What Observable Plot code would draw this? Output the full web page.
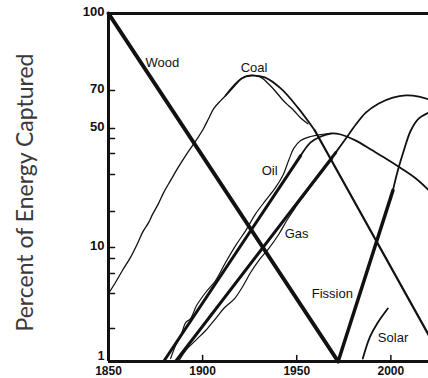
<!DOCTYPE html>
<html><head><meta charset="utf-8">
<script src="https://cdn.jsdelivr.net/npm/d3@7"></script>
<script src="https://cdn.jsdelivr.net/npm/@observablehq/plot@0.6"></script>
<style>html,body{margin:0;padding:0;background:#fff} #chart svg{display:block}</style>
</head><body><div id="chart"></div>
<script>
// ---- data (year, percent) ----
const xTicks = [1850, 1900, 1950, 2000];
const yTickLabels = [10, 50, 70, 100];
const yBottomLabel = [1];
const yMinorTicks = [2, 4, 6, 8, 20, 30, 40, 45];
const yScaleStops = [1, 2, 4, 6, 8, 10, 20, 30, 40, 45, 50, 70, 100];

const wood = [[1850, 100], [1972, 1]];
const fissionLine = [[1972, 1], [2001.1, 25.7]];
const fissionCurve = [[2001.1, 25.7], [2003.7, 31.9], [2006.9, 41], [2010.6, 49], [2014.9, 55.3], [2020.2, 58.4]];
const coalData = [[1850, 4.0], [1853.7, 5.1], [1857.4, 6.4], [1861.7, 8.2], [1865.4, 11.1], [1868.1, 14.2], [1871.3, 16.9], [1873.4, 19.2], [1876.6, 22.2], [1879.3, 25.1], [1883.0, 28.4], [1886.7, 32.9], [1891.0, 39.0], [1894.7, 42.7], [1897.9, 46.0], [1900.5, 50], [1903.2, 55.3], [1905.9, 60.5], [1909.6, 64.7], [1913.8, 68.9], [1917.6, 72.3], [1920.7, 74.7], [1923.9, 75.8], [1928.2, 75.8], [1931.9, 74.7], [1935.1, 72.5], [1938.8, 69.5], [1942.6, 65.0], [1945.7, 62.0], [1948.4, 59.5], [1952.1, 55.5], [1955.9, 52.5]];
const coalFit = [[1912.2, 67.4], [1920.7, 74.7], [1926.1, 75.8], [1933, 75.1], [1941.5, 70.8], [1950.5, 61.1], [1959.6, 49]];
const coalDecline = [[1959.6, 49], [2020.2, 1.79]];
const oilLine = [[1879.3, 1], [1952.1, 39]];
const oilFit = [[1952.1, 39], [1957.4, 43.7], [1962.8, 46.0], [1968.1, 47.5], [1973.4, 47.0], [1981.4, 44.3], [1989.4, 41.3], [1997.3, 37.6], [2004.8, 33.3], [2013.3, 28.9], [2020.2, 25.7]];
const oilData = [[1883.0, 1.09], [1885.6, 1.48], [1888.3, 1.76], [1891.0, 2.34], [1893.6, 2.57], [1896.8, 3.31], [1901.6, 4.1], [1906.9, 5.3], [1912.2, 7.47], [1917.6, 10.6], [1922.9, 14.7], [1928.2, 19.4], [1933.5, 23.0], [1938.8, 26.5], [1942.6, 29.7], [1945.7, 36.7], [1948.4, 41.7], [1952.1, 44.3], [1957.4, 46.0], [1962.8, 47.0], [1968.1, 47.5]];
const gasLine = [[1885.6, 1], [1970.7, 40.3]];
const gasFit = [[1970.7, 40.3], [1976.1, 45], [1981.4, 52.1], [1986.7, 58.4], [1993.6, 63.2], [2001.1, 66.3], [2008.0, 67.4], [2014.9, 66.8], [2020.2, 65.3]];
const gasData = [[1887.2, 1], [1891.0, 1.33], [1896.3, 1.64], [1901.6, 1.94], [1906.9, 2.57], [1911.7, 3.2], [1917.0, 3.71], [1921.3, 4.7], [1925.5, 6.13], [1929.8, 7.73], [1935.1, 9.8], [1940.4, 13.6], [1944.7, 17.5], [1948.9, 20.8], [1953.7, 24.1], [1958.5, 27.3], [1963.8, 31.4], [1969.1, 37.6]];
const solar = [[1985.1, 1.09], [1988.8, 1.73], [1993.1, 2.34], [1998.4, 3.14]];

const seriesLabels = [
  {name: "Wood", year: 1869.7, value: 80.9},
  {name: "Coal", year: 1920.2, value: 79.0},
  {name: "Oil", year: 1931.4, value: 31.9},
  {name: "Gas", year: 1943.6, value: 13.9},
  {name: "Fission", year: 1958.0, value: 4.0},
  {name: "Solar", year: 1993.1, value: 1.73}
];
const yTitle = "Percent of Energy Captured";

// ---- chart ----
const ink = "#111";
const X = d => d[0], Y = d => d[1];
const tickShape = {draw(context, l) { context.moveTo(0, 0); context.lineTo(0, -l); }};
const line = (data, w, curve = "linear") => Plot.line(data, {x: X, y: Y, stroke: ink, strokeWidth: w, curve, strokeLinejoin: "round", strokeLinecap: "round"});

const chart = Plot.plot({
  width: 428,
  height: 378,
  marginLeft: 108,
  marginRight: 0,
  marginTop: 13,
  marginBottom: 17,
  style: {fontFamily: "'Liberation Sans', Arial, sans-serif", fontSize: "13px", color: ink, background: "#fff"},
  x: {domain: [1850, 2020], axis: null},
  y: {type: "linear", domain: yScaleStops, range: [361, 328, 293, 273, 258, 247, 211, 174, 153, 138, 128, 90, 13], axis: null},
  marks: [
    // thin historical data
    line(coalData, 1.3, "catmull-rom"),
    line(oilData, 1.2, "catmull-rom"),
    line(gasData, 1.2, "catmull-rom"),
    // fitted curves
    line(coalFit, 1.8, "catmull-rom"),
    line(coalDecline, 2.2),
    line(oilFit, 1.8, "catmull-rom"),
    line(gasFit, 1.8, "catmull-rom"),
    line(fissionCurve, 1.8, "catmull-rom"),
    line(solar, 1.8, "catmull-rom"),
    line(oilLine, 3),
    line(gasLine, 3),
    line(fissionLine, 3.5),
    line(wood, 4),
    // frame
    Plot.ruleX([1850], {stroke: ink, strokeWidth: 3}),
    Plot.ruleY([1, 100], {stroke: ink, strokeWidth: 3}),
    // inward ticks
    Plot.vector(yMinorTicks.concat([10, 50, 70]), {x: () => 1850, y: d => d, rotate: 90, length: 6, anchor: "start", shape: tickShape, stroke: ink, strokeWidth: 1.5}),
    Plot.vector(xTicks.slice(1), {x: d => d, y: () => 1, rotate: 0, length: 6, anchor: "start", shape: tickShape, stroke: ink, strokeWidth: 1.5}),
    // axis labels
    Plot.axisY({ticks: yTickLabels, tickSize: 0, tickPadding: 4, dy: -2, tickFormat: d => String(d), fontSize: 13, fontWeight: "bold", label: null}),
    Plot.axisY({ticks: yBottomLabel, tickSize: 0, tickPadding: 4, dy: -5, tickFormat: d => String(d), fontSize: 12, fontWeight: "bold", label: null}),
    Plot.axisX({ticks: xTicks, tickSize: 0, tickPadding: 5, tickFormat: d => String(d), fontSize: 12, fontWeight: "bold", label: null}),
    // series labels
    Plot.text(seriesLabels, {x: "year", y: "value", text: "name", textAnchor: "start", fontSize: 13, fill: ink}),
    // y title
    Plot.text([yTitle], {frameAnchor: "left", textAnchor: "middle", dx: -83, dy: 5, rotate: -90, fontSize: 23, fontFamily: "Lato", fill: "#3a3a3a"})
  ]
});
document.getElementById("chart").appendChild(chart);
</script>
</body></html>
